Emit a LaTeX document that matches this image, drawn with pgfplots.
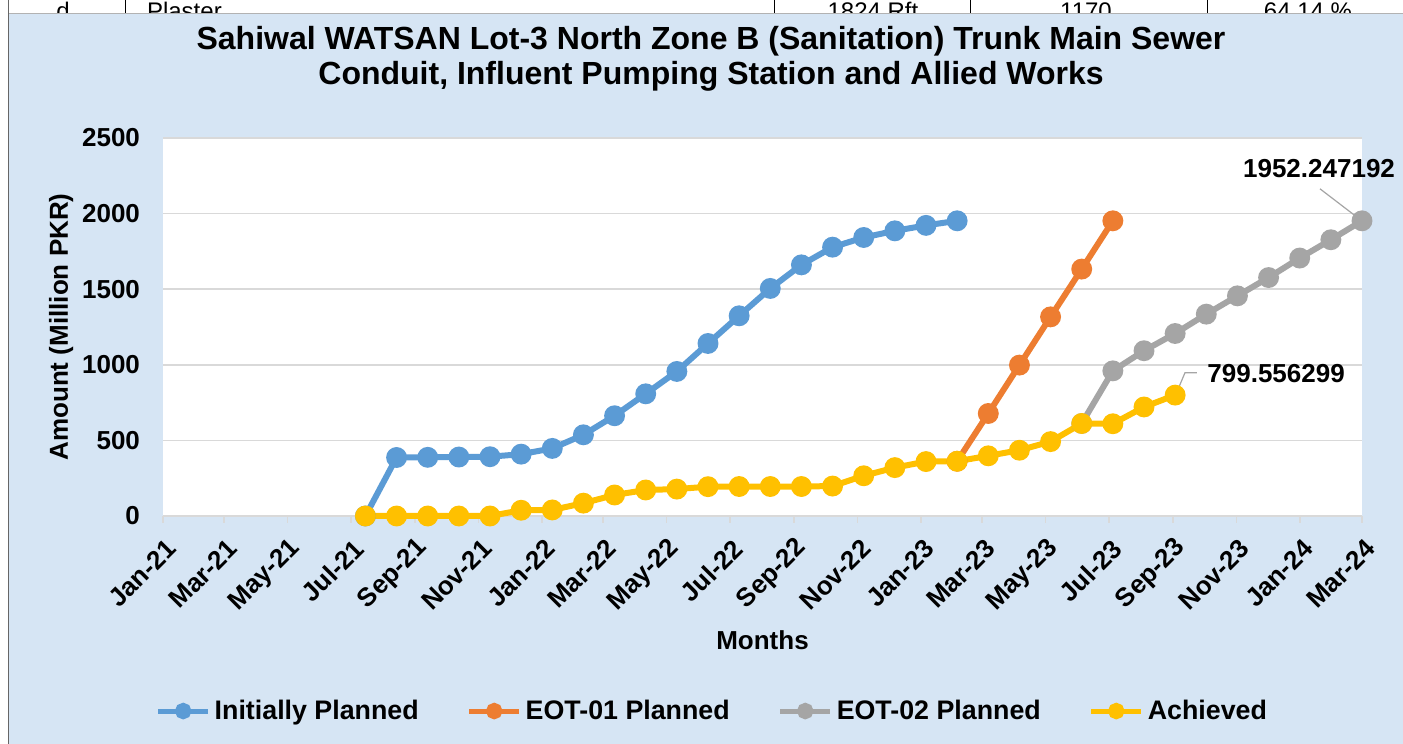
\documentclass[border=0pt]{standalone}
\usepackage{pgfplots}
\pgfplotsset{compat=1.18}
\usepackage{fontspec}
\setmainfont{Liberation Sans}

\definecolor{bgblue}{RGB}{214,229,244}
\definecolor{sblue}{RGB}{91,155,213}
\definecolor{sorange}{RGB}{237,125,49}
\definecolor{sgray}{RGB}{165,165,165}
\definecolor{syellow}{RGB}{255,192,0}
\definecolor{gridgray}{RGB}{217,217,217}

% x = days since 1 Jan 2021 (points every 30 days)
\pgfplotstableread{
x y
195 0
225 387
255 388
285 390
315 392
345 409
375 447
405 537
435 663
465 808
495 956
525 1141
555 1324
585 1505
615 1661
645 1778
675 1842
705 1886
735 1922
765 1952.247192
}\initial
\pgfplotstableread{
x y
765 362
795 678
825 998
855 1317
885 1633
915 1952.247192
}\eotone
\pgfplotstableread{
x y
885 612
915 960
945 1093
975 1207
1005 1335
1035 1456
1065 1577
1095 1706
1125 1827
1155 1952.247192
}\eottwo
\pgfplotstableread{
x y
195 0
225 0
255 0
285 0
315 0
345 38
375 40
405 85
435 139
465 172
495 178
525 194
555 195
585 195
615 195
645 198
675 266
705 320
735 360
765 362
795 398
825 435
855 492
885 612
915 610
945 721
975 799.556299
}\achieved

\newcommand{\lbl}{\fontsize{13}{15}\selectfont\bfseries}

\begin{document}
\begin{tikzpicture}
\begin{scope}[x=0.5pt,y=0.5pt]
  \path[use as bounding box, clip] (0,0) rectangle (1403,744);
  \fill[white] (0,0) rectangle (1403,744);
  % table fragment above the chart
  \begin{scope}[font=\fontsize{12}{14}\selectfont]
    \node[anchor=base] at (63,724) {d};
    \node[anchor=base west] at (140,724) {Plaster};
    \node[anchor=base] at (873,724) {1824 Rft};
    \node[anchor=base] at (1086,724) {1170};
    \node[anchor=base] at (1308,724) {64.14 \%};
    \draw[black] (125,744) -- (125,730) (774,744) -- (774,730) (970,744) -- (970,730) (1207,744) -- (1207,730);
  \end{scope}
  \fill[bgblue] (8,0) rectangle (1403,731);
  \draw[gray!60] (8,731) -- (1403,731);
  \draw[gray!80!black] (8,0) -- (8,744);
  \node[font=\fontsize{16}{18}\selectfont\bfseries] at (711,703) {Sahiwal WATSAN Lot-3 North Zone B (Sanitation) Trunk Main Sewer};
  \node[font=\fontsize{16}{18}\selectfont\bfseries] at (711,668) {Conduit, Influent Pumping Station and Allied Works};
\end{scope}

\begin{axis}[
  at={(81.5pt,114pt)}, anchor=south west,
  scale only axis, width=599.5pt, height=189pt,
  axis background/.style={fill=white},
  clip=false,
  xmin=0, xmax=1155, ymin=0, ymax=2500,
  axis line style={draw=none},
  xtick={0,59,120,181,243,304,365,424,485,546,608,669,730,789,850,911,973,1034,1095,1155},
  xticklabels={Jan-21,Mar-21,May-21,Jul-21,Sep-21,Nov-21,Jan-22,Mar-22,May-22,Jul-22,Sep-22,Nov-22,Jan-23,Mar-23,May-23,Jul-23,Sep-23,Nov-23,Jan-24,Mar-24},
  ytick={0,500,1000,1500,2000,2500},
  xtick pos=bottom, tick align=outside,
  major tick length=3.5pt,
  xtick style={draw=gridgray, line width=0.8pt},
  ytick style={draw=none},
  ymajorgrids, grid style={draw=gridgray, line width=0.8pt},
  /pgf/number format/assume math mode=true,
  /pgf/number format/1000 sep={},
  xticklabel style={font=\lbl, rotate=45, anchor=east, xshift=-1pt, yshift=-10.5pt},
  yticklabel style={font=\lbl, xshift=-4.5pt},
  xlabel={Months}, ylabel={Amount (Million PKR)},
  xlabel style={font=\lbl, at={(axis description cs:0.5,-0.328)}, anchor=center},
  ylabel style={font=\lbl, at={(axis description cs:-0.085,0.5)}, anchor=center},
  every axis plot/.append style={line width=3pt, mark=*, mark size=3.7pt},
  legend style={at={(0.459,-0.516)}, anchor=center, draw=none, fill=none,
    legend columns=-1, font=\fontsize{13.4}{15}\selectfont\bfseries,
    /tikz/every even column/.append style={column sep=22pt}},
  legend image code/.code={\draw[#1, line width=2.5pt] (0pt,0pt) -- (25pt,0pt);
    \draw[#1, mark size=2.6pt] plot coordinates {(12.5pt,0pt)};},
  legend plot pos=left,
]
\addplot[color=sblue, mark options={solid, fill=sblue, draw=sblue}] table {\initial};
\addlegendentry{Initially Planned}
\addplot[color=sorange, mark options={solid, fill=sorange, draw=sorange}] table {\eotone};
\addlegendentry{EOT-01 Planned}
\addplot[color=sgray, mark options={solid, fill=sgray, draw=sgray}] table {\eottwo};
\addlegendentry{EOT-02 Planned}
\addplot[color=syellow, mark options={solid, fill=syellow, draw=syellow}] table {\achieved};
\addlegendentry{Achieved}

\draw[sgray, line width=0.6pt] (axis cs:1148,1988) -- (axis cs:1114.5,2164);
\node[font=\lbl] at (axis cs:1113.6,2296) {1952.247192};
\draw[sgray, line width=0.6pt] (axis cs:978,842) -- (axis cs:984.5,948) -- (axis cs:996,948);
\node[font=\lbl, anchor=west, inner sep=0pt] at (axis cs:1005.7,943) {799.556299};
\end{axis}
\end{tikzpicture}
\end{document}
